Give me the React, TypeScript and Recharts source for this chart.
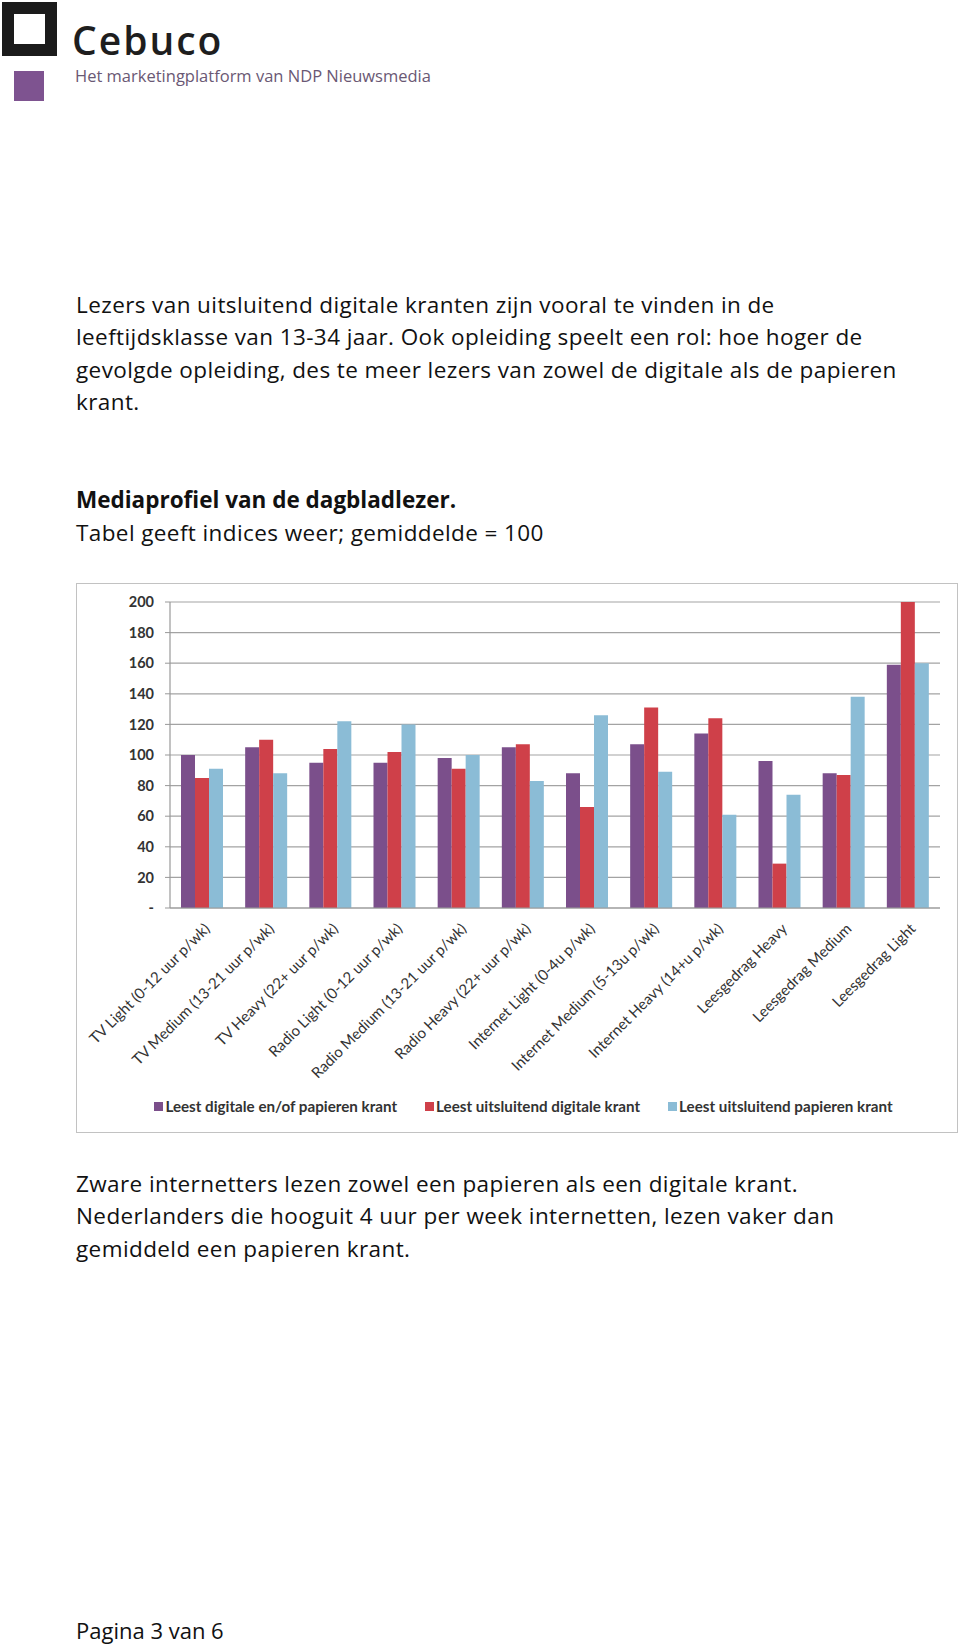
import { BarChart, Bar, XAxis, YAxis, CartesianGrid, Legend } from 'recharts'

const categories = [
  'TV Light (0-12 uur p/wk)',
  'TV Medium (13-21 uur p/wk)',
  'TV Heavy (22+ uur p/wk)',
  'Radio Light (0-12 uur p/wk)',
  'Radio Medium (13-21 uur p/wk)',
  'Radio Heavy (22+ uur p/wk)',
  'Internet Light (0-4u p/wk)',
  'Internet Medium (5-13u p/wk)',
  'Internet Heavy (14+u p/wk)',
  'Leesgedrag Heavy',
  'Leesgedrag Medium',
  'Leesgedrag Light',
]
const digitaalOfPapier = [100, 105, 95, 95, 98, 105, 88, 107, 114, 96, 88, 159]
const alleenDigitaal = [85, 110, 104, 102, 91, 107, 66, 131, 124, 29, 87, 200]
const alleenPapier = [91, 88, 122, 120, 100, 83, 126, 89, 61, 74, 138, 160]
const yTicks = [0, 20, 40, 60, 80, 100, 120, 140, 160, 180, 200]
const groupEdges = [0, 1, 2, 3, 4, 5, 6, 7, 8, 9, 10, 11, 12]

const data = categories.map((name, i) => ({
  name,
  a: digitaalOfPapier[i],
  b: alleenDigitaal[i],
  c: alleenPapier[i],
}))

const PURPLE = '#7b4f8b'
const RED = '#cf4049'
const BLUE = '#8bbcd6'
const FONT = 'Lato, "Open Sans", sans-serif'
const BODY_FONT = '"Open Sans", sans-serif'

function CategoryTick({ x, y, payload }: any) {
  return (
    <g transform={`translate(${x + 5},${y + 10})`}>
      <text
        textAnchor="end"
        transform="rotate(-45)"
        dy="0.35em"
        fontFamily={FONT}
        fontSize={15}
        fill="#333"
      >
        {payload.value}
      </text>
    </g>
  )
}

function ChartLegend({ payload }: any) {
  return (
    <div
      style={{
        display: 'flex',
        justifyContent: 'center',
        alignItems: 'center',
        gap: 28,
        height: 30,
        paddingLeft: 30,
        boxSizing: 'border-box',
        fontFamily: FONT,
        fontWeight: 700,
        fontSize: 15.2,
        color: '#333',
      }}
    >
      {(payload || []).map((p: any) => (
        <span key={p.value} style={{ display: 'flex', alignItems: 'center' }}>
          <span
            style={{
              display: 'inline-block',
              width: 9,
              height: 9,
              background: p.color,
              marginRight: 2,
            }}
          />
          {p.value}
        </span>
      ))}
    </div>
  )
}

const textBase: React.CSSProperties = {
  position: 'absolute',
  left: 76,
  fontFamily: BODY_FONT,
  fontSize: 22.5,
  letterSpacing: 0.4,
  lineHeight: '32.4px',
  color: '#111',
  whiteSpace: 'nowrap',
}

export default function App() {
  return (
    <div
      style={{
        position: 'absolute',
        left: 0,
        top: 0,
        width: 960,
        height: 1646,
        background: '#fff',
        overflow: 'hidden',
      }}
    >
      {/* logo */}
      <div
        style={{
          position: 'absolute',
          left: 2,
          top: 2,
          width: 55,
          height: 54,
          border: '12px solid #1b1b1b',
          boxSizing: 'border-box',
        }}
      />
      <div
        style={{
          position: 'absolute',
          left: 14,
          top: 71,
          width: 30,
          height: 30,
          background: '#7e5390',
        }}
      />
      <div
        style={{
          position: 'absolute',
          left: 72,
          top: 21,
          fontFamily: BODY_FONT,
          fontWeight: 600,
          fontSize: 39,
          lineHeight: '38px',
          letterSpacing: 2,
          color: '#1e1e1e',
        }}
      >
        Cebuco
      </div>
      <div
        style={{
          position: 'absolute',
          left: 75,
          top: 68,
          fontFamily: BODY_FONT,
          fontSize: 16.5,
          lineHeight: '16.5px',
          color: '#6a5874',
          whiteSpace: 'nowrap',
        }}
      >
        Het marketingplatform van NDP Nieuwsmedia
      </div>

      <div style={{ ...textBase, top: 289 }}>
        Lezers van uitsluitend digitale kranten zijn vooral te vinden in de
        <br />
        leeftijdsklasse van 13-34 jaar. Ook opleiding speelt een rol: hoe hoger de
        <br />
        gevolgde opleiding, des te meer lezers van zowel de digitale als de papieren
        <br />
        krant.
      </div>

      <div style={{ ...textBase, top: 483, lineHeight: '33px' }}>
        <b style={{ letterSpacing: 0 }}>Mediaprofiel van de dagbladlezer.</b>
        <br />
        Tabel geeft indices weer; gemiddelde = 100
      </div>

      <div
        style={{
          position: 'absolute',
          left: 76,
          top: 583,
          width: 880,
          height: 548,
          border: '1.5px solid #c2c2c2',
          background: '#fff',
        }}
      >
        <BarChart
          width={880}
          height={548}
          data={data}
          margin={{ top: 18, right: 17, left: 0, bottom: 11 }}
          barSize={14}
          barGap={0}
        >
          <CartesianGrid vertical={false} stroke="#a3a3a3" strokeWidth={1.2} />
          <XAxis
            xAxisId="edges"
            type="number"
            domain={[0, 12]}
            ticks={groupEdges}
            tick={false}
            axisLine={false}
            tickLine={{ stroke: '#999' }}
            tickSize={6}
            height={0}
          />
          <XAxis
            dataKey="name"
            interval={0}
            height={183}
            tick={<CategoryTick />}
            tickLine={false}
            axisLine={{ stroke: '#999', strokeWidth: 1.2 }}
          />
          <YAxis
            width={93}
            domain={[0, 200]}
            ticks={yTicks}
            interval={0}
            tickFormatter={(v: number) => (v === 0 ? '-' : String(v))}
            tick={{ fontFamily: FONT, fontWeight: 700, fontSize: 14.5, fill: '#333' }}
            tickSize={5}
            tickMargin={11}
            axisLine={{ stroke: '#999', strokeWidth: 1.2 }}
            tickLine={{ stroke: '#999' }}
          />
          <Legend verticalAlign="bottom" content={<ChartLegend />} />
          <Bar
            dataKey="a"
            name="Leest digitale en/of papieren krant"
            fill={PURPLE}
            isAnimationActive={false}
          />
          <Bar
            dataKey="b"
            name="Leest uitsluitend digitale krant"
            fill={RED}
            isAnimationActive={false}
          />
          <Bar
            dataKey="c"
            name="Leest uitsluitend papieren krant"
            fill={BLUE}
            isAnimationActive={false}
          />
        </BarChart>
      </div>

      <div style={{ ...textBase, top: 1168 }}>
        Zware internetters lezen zowel een papieren als een digitale krant.
        <br />
        Nederlanders die hooguit 4 uur per week internetten, lezen vaker dan
        <br />
        gemiddeld een papieren krant.
      </div>

      <div style={{ ...textBase, top: 1614, fontSize: 22, letterSpacing: 0 }}>
        Pagina 3 van 6
      </div>
    </div>
  )
}
